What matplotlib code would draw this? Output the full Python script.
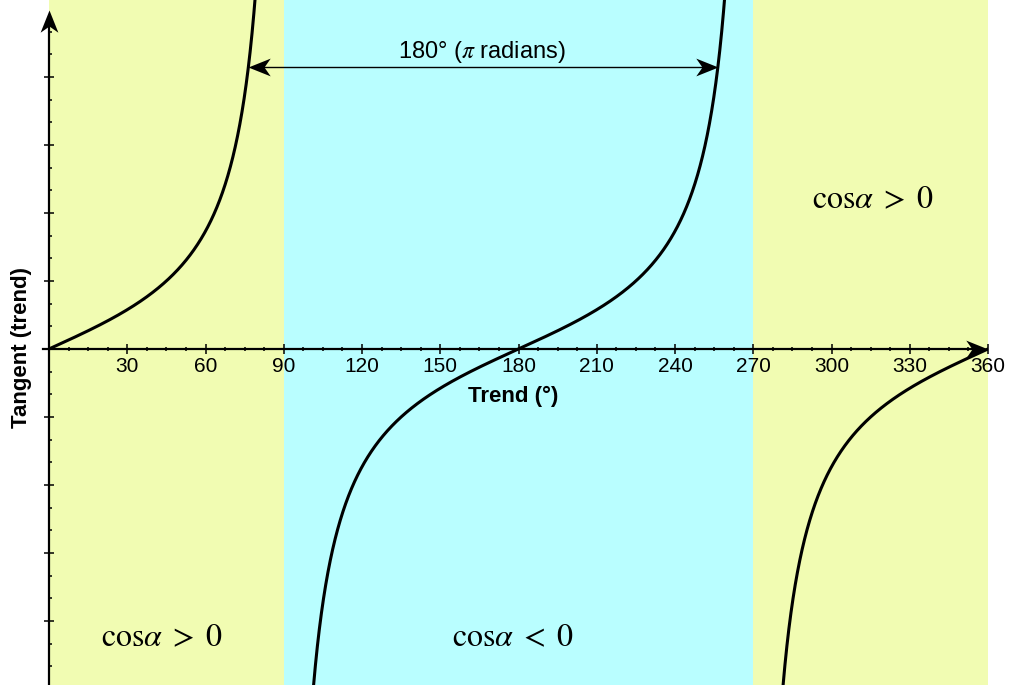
import numpy as np
import matplotlib
matplotlib.use("Agg")
import matplotlib.pyplot as plt
from matplotlib.path import Path

plt.rcParams['font.family'] = ['Liberation Sans', 'DejaVu Sans']
plt.rcParams['mathtext.fontset'] = 'stix'

# shaded bands: sign of cos(trend)
band_edges = [0, 90, 270, 360]
band_colors = ['#f1fcb2', '#b9feff', '#f1fcb2']
band_labels = [r'$\mathrm{cos}\alpha\;>\;0$', r'$\mathrm{cos}\alpha\;<\;0$', r'$\mathrm{cos}\alpha\;>\;0$']

trend_ticks = [30, 60, 90, 120, 150, 180, 210, 240, 270, 300, 330, 360]
tan_ticks = [-4, -3, -2, -1, 1, 2, 3, 4]

# tangent of the trend angle, broken at the asymptotes
trend = np.linspace(0, 360, 7201)
tangent = np.tan(np.radians(trend))
tangent[np.abs(tangent) > 8] = np.nan


def stealth(angle):
    # notched arrow head with its tip on the marker centre
    pts = np.array([[0, 0], [-1, 0.4], [-0.72, 0], [-1, -0.4], [0, 0]])
    a = np.radians(angle)
    rot = np.array([[np.cos(a), -np.sin(a)], [np.sin(a), np.cos(a)]])
    codes = [Path.MOVETO, Path.LINETO, Path.LINETO, Path.LINETO, Path.CLOSEPOLY]
    return Path(pts @ rot.T, codes)


fig = plt.figure(figsize=(10.09, 6.85), dpi=100)
ax = fig.add_axes([49 / 1009, 0, 939 / 1009, 1])
ax.set_xlim(0, 360)
ax.set_ylim(-4.94, 5.13)

for i in range(len(band_colors)):
    ax.axvspan(band_edges[i], band_edges[i + 1], color=band_colors[i], lw=0, zorder=0)

ax.plot(trend, tangent, color='black', lw=2.2, zorder=3)

# axes drawn as arrows through the origin
for s in ax.spines.values():
    s.set_visible(False)
ax.spines['bottom'].set_position(('data', 0))
ax.spines['left'].set_position(('data', 0))
ax.plot([-2.3, 356], [0, 0], color='black', lw=1.6, clip_on=False, zorder=4)
ax.plot([0, 0], [-4.94, 4.8], color='black', lw=1.6, clip_on=False, zorder=4)
ax.plot(360, 0, marker=stealth(0), ms=32, color='black', mew=0, clip_on=False, zorder=5)
ax.plot(0, 4.99, marker=stealth(90), ms=32, color='black', mew=0, clip_on=False, zorder=5)

ax.set_xticks(trend_ticks)
ax.set_xticks(np.arange(7.5, 360, 7.5), minor=True)
ax.set_xticklabels([str(t) for t in trend_ticks], fontsize=15)
ax.tick_params(axis='x', which='major', direction='inout', length=7, width=1.1, pad=2)
ax.tick_params(axis='x', which='minor', direction='inout', length=3.4, width=1.1)

ax.set_yticks(tan_ticks)
ax.set_yticks([v / 3 for v in range(-14, 15) if v % 3 != 0], minor=True)
ax.set_yticklabels([])
ax.tick_params(axis='y', which='major', direction='inout', length=7, width=1.1)
ax.tick_params(axis='y', which='minor', direction='in', length=2, width=1.1)

ax.text(178, -0.7, 'Trend (°)', fontsize=16, fontweight='bold', ha='center', va='center')
fig.text(22 / 1009, 1 - 348 / 685, 'Tangent (trend)', fontsize=16, fontweight='bold',
         rotation=90, ha='center', va='center')

# half-period marker between the two branches
y_mark = 4.15
x_left = np.degrees(np.arctan(y_mark))
x_right = x_left + 180
ax.plot([x_left + 3, x_right - 3], [y_mark, y_mark], color='black', lw=1.0, zorder=4)
ax.plot(x_left, y_mark, marker=stealth(180), ms=32, color='black', mew=0, zorder=5)
ax.plot(x_right, y_mark, marker=stealth(0), ms=32, color='black', mew=0, zorder=5)
ax.text(166, 4.36, r'180° ($\pi$ radians)', fontsize=17, ha='center', va='center')

ax.text(315.7, 2.19, band_labels[2], fontsize=23, ha='center', va='center')
ax.text(43.3, -4.25, band_labels[0], fontsize=23, ha='center', va='center')
ax.text(178, -4.25, band_labels[1], fontsize=23, ha='center', va='center')

fig.savefig('out.png', dpi=100)
